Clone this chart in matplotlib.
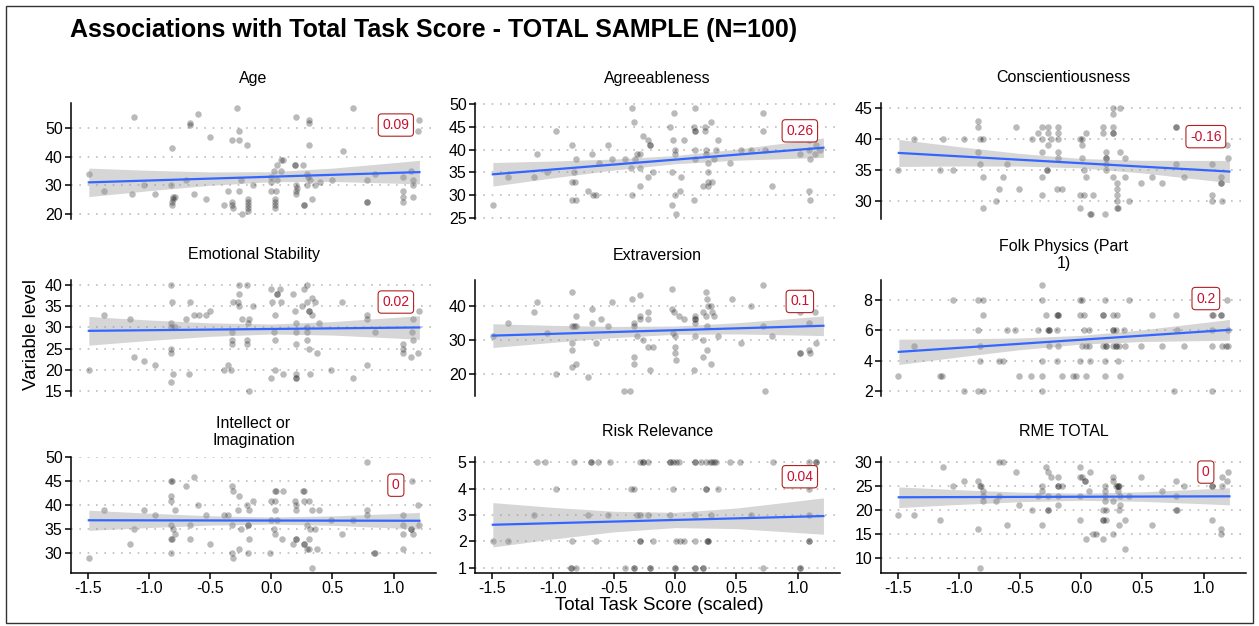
import numpy as np
import matplotlib
matplotlib.use("Agg")
import matplotlib.pyplot as plt
from matplotlib.patches import Rectangle

plt.rcParams['font.family'] = ['Liberation Sans', 'DejaVu Sans']

title = "Associations with Total Task Score - TOTAL SAMPLE (N=100)"

# (total task score scaled, variable value)
age_pts = [(-1.49, 34), (-1.37, 28), (-1.14, 27), (-1.12, 54), (-1.04, 30), (-0.95, 27), (-0.82, 30), (-0.81, 43),
           (-0.80, 26), (-0.80, 25), (-0.81, 24), (-0.81, 23), (-0.79, 26), (-0.70, 32), (-0.66, 52), (-0.66, 51),
           (-0.63, 27), (-0.60, 55), (-0.53, 25), (-0.50, 47), (-0.39, 23), (-0.35, 28), (-0.32, 46), (-0.32, 24),
           (-0.32, 23), (-0.31, 22), (-0.28, 57), (-0.26, 49), (-0.26, 46), (-0.26, 28), (-0.25, 32), (-0.24, 20),
           (-0.20, 44), (-0.19, 25), (-0.19, 24), (-0.19, 23), (-0.19, 22), (-0.19, 21), (-0.15, 30), (0.00, 33),
           (0.00, 31), (0.00, 28), (0.03, 25), (0.03, 24), (0.03, 23), (0.03, 22), (0.04, 28), (0.05, 32),
           (0.02, 35), (0.05, 37), (0.08, 39), (0.10, 39), (0.08, 35), (0.20, 54), (0.19, 37), (0.19, 37),
           (0.20, 30), (0.20, 28), (0.20, 27), (0.21, 29), (0.26, 37), (0.27, 23), (0.27, 23), (0.29, 30),
           (0.29, 34), (0.31, 44), (0.31, 53), (0.31, 52), (0.30, 33), (0.32, 32), (0.33, 25), (0.36, 30),
           (0.40, 31), (0.50, 32), (0.59, 42), (0.67, 57), (0.78, 32), (0.78, 24), (0.78, 24), (0.85, 34),
           (1.08, 33), (1.08, 28), (1.08, 26), (1.08, 24), (1.14, 35), (1.16, 32), (1.16, 30), (1.16, 26),
           (1.21, 53), (1.20, 49)]

agree_pts = [(-1.49, 28), (-1.37, 34), (-1.15, 34), (-1.13, 39), (-1.05, 35), (-0.97, 44), (-0.84, 41), (-0.83, 35),
             (-0.84, 33), (-0.82, 33), (-0.84, 29), (-0.81, 29), (-0.81, 38), (-0.71, 31), (-0.68, 39), (-0.67, 30),
             (-0.65, 30), (-0.62, 37), (-0.55, 41), (-0.52, 38), (-0.41, 38), (-0.36, 36), (-0.35, 49), (-0.34, 46),
             (-0.35, 30), (-0.33, 38), (-0.31, 39), (-0.29, 39), (-0.29, 36), (-0.29, 32), (-0.26, 43), (-0.22, 42),
             (-0.21, 41), (-0.21, 41), (-0.22, 34), (-0.18, 35), (-0.04, 45), (-0.03, 35), (-0.03, 28), (-0.02, 42),
             (-0.01, 48), (0.00, 40), (0.00, 39), (0.00, 30), (0.01, 26), (0.04, 31), (0.05, 34), (0.07, 42),
             (0.15, 29), (0.16, 49), (0.15, 45), (0.16, 44), (0.16, 44), (0.16, 40), (0.16, 38), (0.23, 32),
             (0.24, 45), (0.24, 44), (0.25, 40), (0.25, 39), (0.27, 37), (0.27, 35), (0.27, 33), (0.27, 32),
             (0.29, 46), (0.30, 33), (0.32, 38), (0.33, 40), (0.35, 42), (0.45, 37), (0.54, 40), (0.62, 40),
             (0.72, 48), (0.72, 44), (0.73, 40), (0.79, 32), (1.02, 39), (1.09, 31), (1.10, 29), (1.09, 40),
             (1.10, 38), (1.14, 39), (1.15, 41), (1.09, 42), (1.18, 40)]

consc_pts = [(-1.50, 35), (-1.37, 40), (-1.15, 35), (-1.13, 40), (-1.05, 35), (-0.96, 40), (-0.84, 43), (-0.84, 42),
             (-0.83, 40), (-0.80, 40), (-0.84, 38), (-0.83, 36), (-0.80, 34), (-0.80, 29), (-0.70, 30), (-0.67, 32),
             (-0.64, 34), (-0.61, 36), (-0.53, 42), (-0.51, 32), (-0.40, 40), (-0.35, 41), (-0.32, 42), (-0.32, 40),
             (-0.32, 38), (-0.32, 34), (-0.32, 31), (-0.28, 35), (-0.28, 35), (-0.27, 42), (-0.27, 41), (-0.27, 39),
             (-0.25, 40), (-0.19, 42), (-0.19, 41), (-0.19, 40), (-0.19, 38), (-0.19, 37), (-0.20, 32), (-0.16, 32),
             (-0.01, 40), (0.01, 40), (0.01, 39), (0.01, 37), (-0.01, 31), (0.02, 31), (-0.01, 29), (0.02, 35),
             (0.04, 41), (0.04, 34), (0.07, 28), (0.08, 28), (0.10, 31), (0.19, 28), (0.18, 42), (0.18, 41),
             (0.20, 38), (0.20, 37), (0.20, 37), (0.20, 36), (0.20, 35), (0.26, 45), (0.26, 44), (0.32, 45),
             (0.26, 42), (0.26, 41), (0.26, 41), (0.26, 34), (0.29, 33), (0.29, 32), (0.29, 31), (0.29, 30),
             (0.29, 29), (0.30, 29), (0.32, 38), (0.36, 37), (0.36, 34), (0.39, 30), (0.49, 33), (0.58, 34),
             (0.66, 33), (0.77, 42), (0.77, 42), (0.77, 36), (0.84, 34), (1.07, 36), (1.07, 31), (1.07, 30),
             (1.14, 34), (1.14, 33), (1.14, 33), (1.15, 30), (1.19, 39), (1.20, 37)]

emot_pts = [(-1.49, 20), (-1.37, 33), (-1.15, 32), (-1.12, 23), (-1.04, 22), (-0.95, 21), (-0.82, 40), (-0.82, 31),
            (-0.82, 30), (-0.82, 25), (-0.82, 24), (-0.82, 17), (-0.81, 36), (-0.80, 19), (-0.79, 30), (-0.70, 32),
            (-0.67, 19), (-0.66, 36), (-0.63, 33), (-0.59, 33), (-0.53, 33), (-0.50, 34), (-0.39, 20), (-0.35, 21),
            (-0.33, 20), (-0.32, 27), (-0.32, 26), (-0.32, 29), (-0.31, 36), (-0.27, 36), (-0.26, 40), (-0.26, 38),
            (-0.26, 35), (-0.24, 32), (-0.20, 40), (-0.20, 27), (-0.20, 26), (-0.19, 31), (-0.18, 32), (-0.18, 15),
            (-0.15, 35), (0.00, 39), (0.01, 36), (0.02, 29), (0.03, 33), (0.03, 27), (0.00, 18), (0.03, 20),
            (0.05, 38), (0.05, 38), (0.07, 39), (0.08, 36), (0.10, 19), (0.18, 38), (0.19, 34), (0.20, 31),
            (0.20, 29), (0.20, 26), (0.20, 19), (0.20, 18), (0.20, 18), (0.25, 35), (0.27, 39), (0.29, 40),
            (0.29, 36), (0.29, 30), (0.29, 29), (0.29, 27), (0.31, 34), (0.31, 34), (0.31, 25), (0.32, 19),
            (0.33, 37), (0.33, 33), (0.36, 36), (0.37, 24), (0.39, 31), (0.49, 20), (0.58, 36), (0.67, 18),
            (0.78, 33), (0.78, 32), (0.78, 21), (0.85, 29), (1.08, 26), (1.08, 25), (1.08, 24), (1.15, 29),
            (1.16, 27), (1.14, 23), (1.16, 32), (1.20, 24), (1.21, 34)]

extra_pts = [(-1.49, 31), (-1.37, 35), (-1.15, 38), (-1.13, 41), (-1.05, 32), (-0.97, 20), (-0.84, 44), (-0.84, 34),
             (-0.83, 34), (-0.81, 34), (-0.84, 29), (-0.84, 27), (-0.81, 37), (-0.84, 22), (-0.81, 23), (-0.71, 19),
             (-0.68, 35), (-0.68, 39), (-0.65, 29), (-0.61, 36), (-0.55, 34), (-0.52, 41), (-0.42, 15), (-0.37, 15),
             (-0.35, 42), (-0.34, 35), (-0.34, 34), (-0.34, 25), (-0.34, 23), (-0.31, 31), (-0.29, 43), (-0.29, 37),
             (-0.29, 36), (-0.26, 30), (-0.22, 38), (-0.22, 36), (-0.22, 28), (-0.18, 28), (-0.21, 21), (-0.03, 45),
             (-0.03, 39), (-0.02, 32), (-0.01, 38), (0.00, 31), (0.00, 28), (0.00, 26), (0.01, 24), (0.03, 37),
             (0.07, 36), (0.15, 21), (0.16, 37), (0.16, 36), (0.16, 36), (0.16, 35), (0.16, 31), (0.23, 38),
             (0.23, 30), (0.23, 25), (0.25, 44), (0.26, 42), (0.25, 37), (0.26, 34), (0.26, 27), (0.27, 40),
             (0.29, 40), (0.29, 23), (0.30, 38), (0.32, 37), (0.35, 31), (0.46, 42), (0.54, 29), (0.62, 40),
             (0.72, 46), (0.72, 34), (0.73, 15), (0.79, 31), (1.02, 38), (1.02, 26), (1.02, 26), (1.09, 35),
             (1.09, 27), (1.10, 26), (1.10, 44), (1.14, 38), (1.15, 29)]

folk_pts = [(-1.50, 3), (-1.37, 5), (-1.15, 3), (-1.14, 3), (-1.05, 8), (-0.96, 2), (-0.84, 8), (-0.80, 8),
            (-0.80, 7), (-0.84, 6), (-0.83, 5), (-0.83, 4), (-0.84, 2), (-0.80, 2), (-0.67, 4), (-0.64, 4),
            (-0.61, 6), (-0.54, 6), (-0.51, 3), (-0.41, 3), (-0.32, 3), (-0.35, 6), (-0.32, 9), (-0.32, 8),
            (-0.32, 4), (-0.32, 2), (-0.29, 7), (-0.27, 6), (-0.26, 6), (-0.26, 6), (-0.26, 5), (-0.20, 7),
            (-0.19, 7), (-0.19, 7), (-0.20, 6), (-0.19, 5), (-0.20, 4), (-0.16, 3), (-0.07, 3), (-0.04, 3),
            (-0.01, 8), (0.01, 8), (-0.01, 7), (0.02, 7), (0.02, 6), (0.06, 6), (0.01, 5), (0.04, 5),
            (0.06, 5), (-0.01, 4), (0.04, 3), (0.07, 4), (0.18, 7), (0.18, 7), (0.19, 8), (0.18, 5),
            (0.20, 5), (0.20, 5), (0.19, 4), (0.19, 3), (0.26, 7), (0.29, 7), (0.26, 6), (0.26, 6),
            (0.28, 6), (0.26, 5), (0.28, 5), (0.28, 5), (0.31, 5), (0.30, 4), (0.32, 3), (0.35, 6),
            (0.36, 5), (0.39, 8), (0.49, 5), (0.58, 7), (0.66, 5), (0.77, 7), (0.76, 2), (0.78, 6),
            (0.84, 5), (1.07, 7), (1.08, 7), (1.07, 6), (1.07, 5), (1.07, 2), (1.15, 5), (1.18, 5),
            (1.14, 7), (1.14, 7), (1.20, 5), (1.19, 8), (1.20, 6)]

intel_pts = [(-1.49, 29), (-1.37, 39), (-1.15, 32), (-1.12, 35), (-1.04, 39), (-0.95, 38), (-0.82, 45), (-0.81, 45),
             (-0.82, 42), (-0.82, 41), (-0.82, 36), (-0.82, 33), (-0.82, 30), (-0.81, 33), (-0.80, 35), (-0.79, 34),
             (-0.79, 39), (-0.70, 44), (-0.66, 36), (-0.66, 33), (-0.63, 46), (-0.60, 40), (-0.53, 38), (-0.50, 32),
             (-0.39, 38), (-0.35, 38), (-0.32, 44), (-0.31, 43), (-0.32, 30), (-0.31, 29), (-0.32, 36), (-0.27, 39),
             (-0.26, 42), (-0.26, 31), (-0.25, 35), (-0.20, 40), (-0.19, 36), (-0.19, 36), (-0.19, 30), (-0.18, 33),
             (-0.18, 39), (-0.15, 41), (-0.01, 30), (0.00, 41), (0.00, 37), (0.02, 35), (0.03, 43), (0.04, 43),
             (0.03, 41), (0.03, 39), (0.03, 34), (0.05, 37), (0.09, 33), (0.10, 43), (0.18, 32), (0.19, 41),
             (0.20, 40), (0.20, 39), (0.20, 33), (0.20, 33), (0.26, 43), (0.27, 43), (0.27, 41), (0.27, 32),
             (0.27, 32), (0.29, 31), (0.31, 31), (0.29, 36), (0.31, 41), (0.31, 33), (0.32, 35), (0.33, 27),
             (0.33, 39), (0.36, 35), (0.37, 31), (0.39, 39), (0.49, 37), (0.58, 34), (0.67, 37), (0.78, 39),
             (0.78, 38), (0.78, 49), (0.84, 30), (0.85, 30), (1.08, 38), (1.08, 36), (1.08, 34), (1.08, 31),
             (1.15, 45), (1.14, 35), (1.14, 35), (1.16, 34), (1.20, 40), (1.21, 36)]

risk_pts = [(-1.13, 5), (-1.06, 5), (-0.83, 5), (-0.69, 5), (-0.69, 5), (-0.63, 5), (-0.53, 5), (-0.29, 5),
            (-0.26, 5), (-0.26, 5), (-0.22, 5), (-0.04, 5), (-0.04, 5), (-0.02, 5), (0.01, 5), (0.03, 5),
            (0.16, 5), (0.16, 5), (0.21, 5), (0.25, 5), (0.28, 5), (0.30, 5), (0.32, 5), (0.33, 5),
            (0.45, 5), (0.53, 5), (0.80, 5), (1.09, 5), (1.15, 5), (1.15, 5),
            (-0.97, 4), (-0.36, 4), (-0.34, 4), (-0.02, 4), (0.25, 4), (0.25, 4), (0.35, 4), (1.09, 4),
            (-1.15, 3), (-0.71, 3), (-0.55, 3), (-0.31, 3), (-0.29, 3), (-0.22, 3), (-0.04, 3), (0.16, 3),
            (0.29, 3), (0.62, 3), (1.09, 3),
            (-1.49, 2), (-1.37, 2), (-0.84, 2), (-0.65, 2), (-0.29, 2), (-0.29, 2), (-0.18, 2), (0.01, 2),
            (0.04, 2), (0.07, 2), (0.16, 2), (0.26, 2), (0.27, 2), (0.27, 2), (1.09, 2), (1.09, 2),
            (-0.85, 1), (-0.85, 1), (-0.81, 1), (-0.41, 1), (-0.34, 1), (-0.34, 1), (-0.21, 1), (-0.21, 1),
            (0.00, 1), (0.00, 1), (0.16, 1), (0.16, 1), (0.23, 1), (0.23, 1), (0.72, 1), (1.02, 1), (1.02, 1)]

rme_pts = [(-1.50, 19), (-1.37, 19), (-1.15, 18), (-1.13, 29), (-1.05, 25), (-0.96, 26), (-0.84, 26), (-0.83, 25),
           (-0.82, 25), (-0.84, 16), (-0.83, 8), (-0.80, 24), (-0.80, 23), (-0.80, 22), (-0.70, 22), (-0.67, 30),
           (-0.64, 30), (-0.67, 23), (-0.61, 17), (-0.53, 28), (-0.51, 21), (-0.40, 20), (-0.35, 23), (-0.32, 25),
           (-0.32, 24), (-0.32, 17), (-0.29, 29), (-0.27, 28), (-0.27, 23), (-0.27, 20), (-0.27, 20), (-0.25, 27),
           (-0.19, 27), (-0.19, 25), (-0.19, 25), (-0.16, 25), (-0.19, 23), (-0.19, 21), (-0.01, 29), (-0.01, 27),
           (0.01, 27), (0.03, 26), (0.03, 26), (-0.01, 23), (-0.01, 18), (0.04, 14), (0.07, 28), (0.06, 24),
           (0.10, 15), (0.12, 15), (0.18, 14), (0.19, 25), (0.19, 24), (0.19, 23), (0.19, 22), (0.18, 20),
           (0.20, 20), (0.18, 18), (0.18, 18), (0.20, 18), (0.26, 27), (0.26, 26), (0.26, 22), (0.26, 15),
           (0.28, 25), (0.30, 25), (0.30, 25), (0.31, 25), (0.30, 24), (0.31, 20), (0.32, 21), (0.31, 17),
           (0.32, 23), (0.36, 18), (0.36, 12), (0.39, 23), (0.49, 27), (0.58, 17), (0.66, 24), (0.77, 26),
           (0.77, 20), (0.78, 20), (0.77, 23), (0.84, 25), (1.07, 25), (1.07, 25), (1.07, 18), (1.14, 16),
           (1.14, 15), (1.15, 25), (1.15, 27), (1.19, 26), (1.20, 28)]

facet_names = ["Age", "Agreeableness", "Conscientiousness",
               "Emotional Stability", "Extraversion", "Folk Physics (Part\n1)",
               "Intellect or\nImagination", "Risk Relevance", "RME TOTAL"]
facet_points = [age_pts, agree_pts, consc_pts, emot_pts, extra_pts, folk_pts, intel_pts, risk_pts, rme_pts]
corr_labels = ["0.09", "0.26", "-0.16", "0.02", "0.1", "0.2", "0", "0.04", "0"]
facet_yticks = [[20, 30, 40, 50], [25, 30, 35, 40, 45, 50], [30, 35, 40, 45],
                [15, 20, 25, 30, 35, 40], [20, 30, 40], [2, 4, 6, 8],
                [30, 35, 40, 45, 50], [1, 2, 3, 4, 5], [10, 15, 20, 25, 30]]

# linear fit: value at left and right end of the data range
fit_x = [-1.49, -1.0, -0.5, 0.0, 0.5, 1.0, 1.21]
fit_ends = [(31.0, 34.6), (34.6, 40.4), (37.8, 34.8),
            (29.2, 30.0), (31.2, 34.1), (4.58, 6.04),
            (36.9, 36.8), (2.63, 2.96), (22.7, 22.9)]
# half width of the 95% band at fit_x
ci_half = [[5.0, 3.58, 2.35, 1.75, 2.35, 3.58, 4.13],
           [2.57, 1.84, 1.2, 0.9, 1.2, 1.84, 2.13],
           [2.18, 1.56, 1.02, 0.76, 1.02, 1.56, 1.8],
           [3.4, 2.43, 1.6, 1.19, 1.6, 2.43, 2.81],
           [3.5, 2.5, 1.64, 1.22, 1.64, 2.5, 2.9],
           [0.84, 0.6, 0.39, 0.29, 0.39, 0.6, 0.69],
           [2.1, 1.5, 0.98, 0.74, 0.98, 1.5, 1.74],
           [0.84, 0.6, 0.39, 0.29, 0.39, 0.6, 0.69],
           [2.15, 1.54, 1.0, 0.75, 1.0, 1.54, 1.78]]

xtick_vals = [-1.5, -1.0, -0.5, 0.0, 0.5, 1.0]
xtick_text = ["-1.5", "-1.0", "-0.5", "0.0", "0.5", "1.0"]

# layout in pixels
W, H = 1259, 626
col_left = [71, 475, 881]
col_w = 365
row_top = [103, 280, 457]
row_h = 116
label_y = [0.81, 0.76, 0.71, 0.81, 0.815, 0.84, 0.757, 0.83, 0.87]

fig = plt.figure(figsize=(W / 100, H / 100), dpi=100)

all_x = [p[0] for pts in facet_points for p in pts]
xmin, xmax = min(all_x), max(all_x)
xpad = 0.05 * (xmax - xmin)

for i, name in enumerate(facet_names):
    r, c = divmod(i, 3)
    ax = fig.add_axes([col_left[c] / W, 1 - (row_top[r] + row_h) / H, col_w / W, row_h / H])
    xs = np.array([p[0] for p in facet_points[i]])
    ys = np.array([p[1] for p in facet_points[i]])

    ax.scatter(xs, ys, s=22, color='black', alpha=0.27, linewidths=0, zorder=2)

    fx = np.array(fit_x)
    y0, y1 = fit_ends[i]
    slope = (y1 - y0) / (fx[-1] - fx[0])
    fy = y0 + slope * (fx - fx[0])
    hw = np.array(ci_half[i])
    ax.fill_between(fx, fy - hw, fy + hw, color='#999999', alpha=0.4, linewidth=0, zorder=3)
    ax.plot([fx[0], fx[-1]], [y0, y1], color='#3366FF', lw=1.6, zorder=4)

    ymin, ymax = ys.min(), ys.max()
    ypad = 0.05 * (ymax - ymin)
    ax.set_ylim(ymin - ypad, ymax + ypad)
    ax.set_xlim(xmin - xpad, xmax + xpad)
    ax.set_yticks(facet_yticks[i])
    for t in facet_yticks[i]:
        ax.axhline(t, color='#BDBDBD', lw=1.2, ls=(0, (1, 4)), zorder=1)

    for s in ['top', 'right']:
        ax.spines[s].set_visible(False)
    ax.spines['left'].set_linewidth(1.1)
    ax.tick_params(axis='y', direction='out', length=4, width=1.1, labelsize=11.5, pad=2, colors='black')
    if r == 2:
        ax.spines['bottom'].set_linewidth(1.1)
        ax.set_xticks(xtick_vals)
        ax.set_xticklabels(xtick_text)
        ax.tick_params(axis='x', direction='out', length=4, width=1.1, labelsize=11.5, pad=2, colors='black')
    else:
        ax.spines['bottom'].set_visible(False)
        ax.set_xticks([])

    ax.text(0.5, 1 + 25 / row_h, name, transform=ax.transAxes, ha='center', va='center',
            fontsize=11.5, linespacing=1.15)
    ax.text(0.89, label_y[i], corr_labels[i], transform=ax.transAxes, ha='center', va='center',
            fontsize=10, color='#C8102E', zorder=6,
            bbox=dict(boxstyle='round,pad=0.3,rounding_size=0.25', fc='white', ec='#B22222', lw=0.8))

fig.text(70 / W, 1 - 30 / H, title, fontsize=18, fontweight='bold', ha='left', va='center')
fig.text(659 / W, 1 - 606 / H, "Total Task Score (scaled)", fontsize=13.5, ha='center', va='center')
fig.text(32 / W, 1 - 334 / H, "Variable level", fontsize=13.5, ha='center', va='center', rotation=90)

fig.patches.append(Rectangle((6 / W, 3 / H), 1247 / W, 617 / H, transform=fig.transFigure,
                             fill=False, edgecolor='#333333', lw=1))

fig.savefig("out.png", dpi=100)
